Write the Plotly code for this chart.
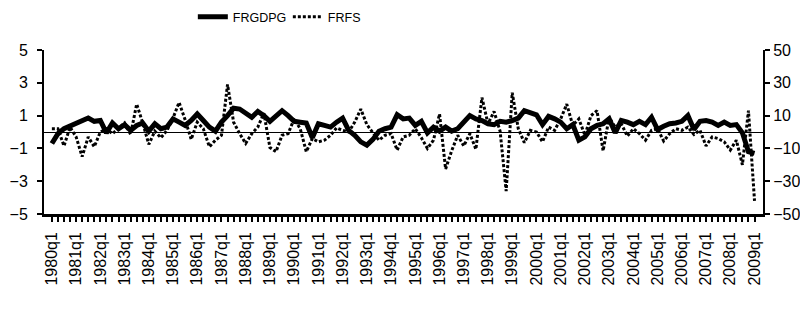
import plotly.graph_objects as go

YEARS = list(range(1980, 2010))
QUARTERS = [f"{y}q{q}" for y in YEARS for q in range(1, 5)][:117]  # 1980q1 .. 2009q1

TICK_LABELS = ["1980q1", "1981q1", "1982q1", "1983q1", "1984q1", "1985q1", "1986q1",
               "1987q1", "1988q1", "1989q1", "1990q1", "1991q1", "1992q1", "1993q1",
               "1994q1", "1995q1", "1996q1", "1997q1", "1998q1", "1999q1", "2000q1",
               "2001q1", "2002q1", "2003q1", "2004q1", "2005q1", "2006q1", "2007q1",
               "2008q1", "2009q1"]

FRGDPG = [-0.7, -0.1, 0.2, 0.35, 0.5, 0.7, 0.85, 0.65, 0.7, -0.05,
          0.55, 0.2, 0.45, 0.1, 0.4, 0.55, 0.05, 0.5, 0.2, 0.3,
          0.8, 0.6, 0.4, 0.7, 1.1, 0.7, 0.3, 0.05, 0.6, 1.0,
          1.45, 1.4, 1.15, 0.9, 1.25, 1.0, 0.65, 1.0, 1.3, 1.0,
          0.65, 0.6, 0.55, -0.35, 0.5, 0.4, 0.3, 0.6, 0.85, 0.1,
          -0.2, -0.6, -0.8, -0.45, 0.05, 0.2, 0.3, 1.05, 0.8, 0.85,
          0.4, 0.65, -0.05, 0.3, 0.05, 0.3, 0.05, 0.2, 0.6, 1.0,
          0.8, 0.7, 0.5, 0.45, 0.65, 0.6, 0.7, 0.85, 1.3, 1.2,
          1.05, 0.45, 0.95, 0.8, 0.6, 0.2, 0.45, -0.5, -0.3, 0.2,
          0.4, 0.5, 0.8, -0.05, 0.7, 0.6, 0.45, 0.65, 0.45, 0.9,
          0.15, 0.35, 0.5, 0.55, 0.65, 1.0, 0.15, 0.65, 0.7, 0.6,
          0.4, 0.6, 0.4, 0.45, -0.05, -1.2, -1.3]

FRFS = [2, 2, -8.5, 3, -3, -15, -3, -9, 0, 2,
        -1, 2.5, 5.5, -1.5, 17, 5.5, -7.5, 0.5, -3.5, 1,
        8.5, 18, 7.5, -4.5, 6, 2, -9, -5, -2, 29,
        6, -1, -7, -1, 3, 11.5, -9.5, -12, -2, -1,
        8, 2, -12, -4, -6, -5, -2, 2.5, 1, 0,
        6, 14, 4.5, -0.5, -5, -2, -1, -11, -3, -2,
        2, -3.5, -10, -5, 11, -22.5, -11.5, -2, -8.5, -1,
        -10.5, 21, 5, 12.5, 0.5, -36, 24, 2, -6.5, 1,
        0, -6, 3, 1, 8, 17, 4, 8, -2, 10,
        13, -11.5, 9, 3, 5, -2.5, 2, -1, -5, 1,
        2, -5.5, -1, 2, 1, 3, -1.5, 1, -8.5, -3,
        -4, -6, -11, -5, -20, 13, -42]

LEFT_TICKS = [-5, -3, -1, 1, 3, 5]
RIGHT_TICKS = [-50, -30, -10, 10, 30, 50]

FONT = "Liberation Sans, Arial, sans-serif"

ticktext = [q if q in TICK_LABELS else "" for q in QUARTERS]

fig = go.Figure()
fig.add_trace(go.Scatter(x=QUARTERS, y=FRGDPG, name="FRGDPG", mode="lines",
                         line=dict(color="black", width=5), yaxis="y"))
fig.add_trace(go.Scatter(x=QUARTERS, y=FRFS, name="FRFS", mode="lines",
                         line=dict(color="black", width=3, dash="3px,2px"), yaxis="y2"))

# page body has an 8px margin: figure is sized so that it fills the 808x312 window
fig.update_layout(
    width=792, height=296,
    margin=dict(l=36, r=37, t=42, b=90, autoexpand=False),
    paper_bgcolor="white", plot_bgcolor="white",
    font=dict(family=FONT, color="black", size=16),
    showlegend=True,
    legend=dict(orientation="h", x=0.207, y=1 - 9 / 296, xref="paper", yref="container",
                xanchor="left", yanchor="middle",
                font=dict(size=12.5, family=FONT), entrywidth=50, entrywidthmode="pixels",
                bgcolor="rgba(0,0,0,0)"),
    xaxis=dict(type="category", range=[-1.3, 117.4], tickmode="array",
               tickvals=QUARTERS, ticktext=ticktext, tickangle=-90,
               ticks="outside", ticklen=5, tickwidth=1.5, tickcolor="black",
               showline=True, linecolor="black", linewidth=2.5, automargin=False,
               ticklabelstandoff=4,
               showgrid=False, zeroline=False, tickfont=dict(size=16)),
    yaxis=dict(range=[-5, 5], tickmode="array", tickvals=LEFT_TICKS,
               ticks="outside", ticklen=5, tickwidth=2, tickcolor="black",
               showline=True, linecolor="black", linewidth=2, automargin=False,
               ticklabelstandoff=6,
               showgrid=False, zeroline=True, zerolinecolor="black", zerolinewidth=1,
               tickfont=dict(size=16)),
    yaxis2=dict(range=[-50, 50], tickmode="array", tickvals=RIGHT_TICKS,
                overlaying="y", side="right", automargin=False,
                ticks="outside", ticklen=5, tickwidth=2, tickcolor="black",
                showline=True, linecolor="black", linewidth=2,
                showgrid=False, zeroline=False, tickfont=dict(size=16)),
)

fig.write_html("out.html")
